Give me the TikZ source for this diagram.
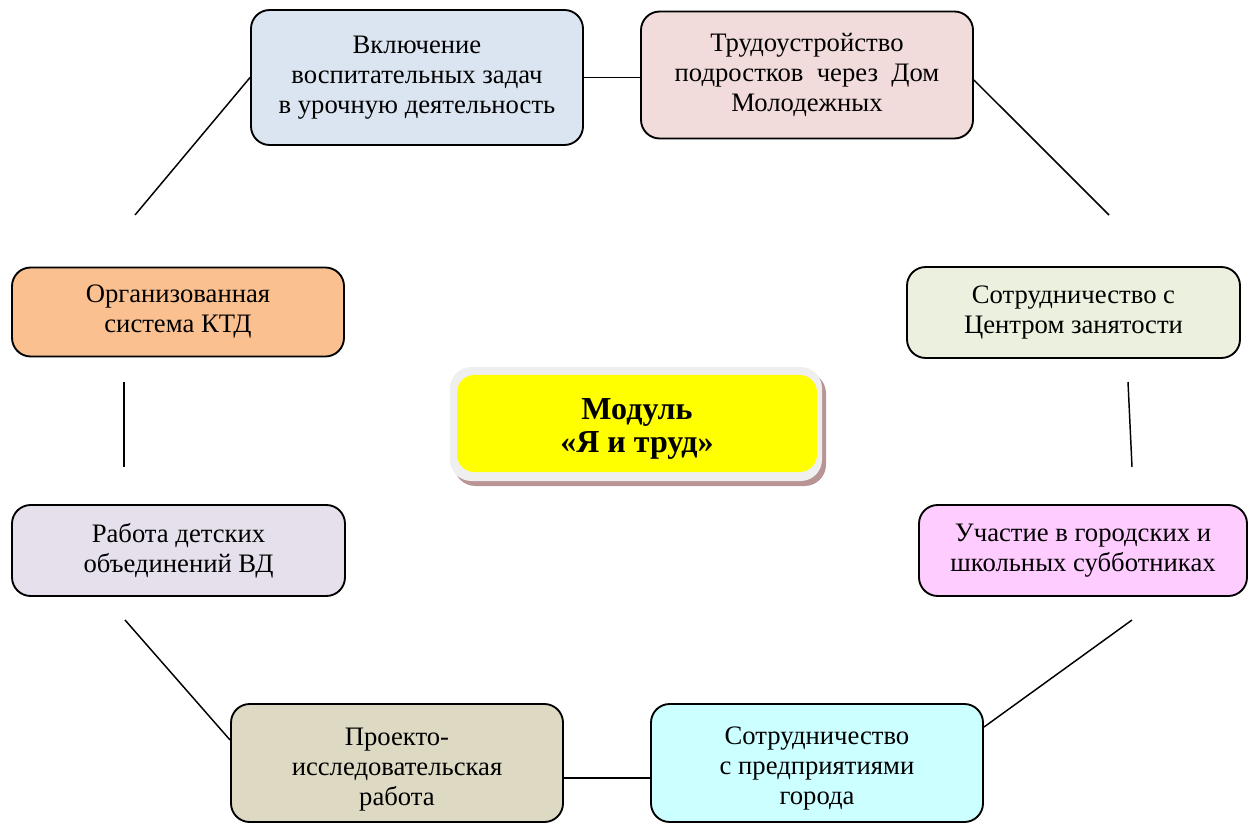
\documentclass[tikz,border=0pt]{standalone}
\usepackage{fontspec}
\setmainfont{Liberation Serif}
\usetikzlibrary{calc}
\definecolor{cA}{HTML}{DBE5F1}
\definecolor{cB}{HTML}{F2DCDB}
\definecolor{cC}{HTML}{FAC090}
\definecolor{cD}{HTML}{EBF1DE}
\definecolor{cE}{HTML}{E5E0EC}
\definecolor{cF}{HTML}{FFCCFF}
\definecolor{cG}{HTML}{DDD9C3}
\definecolor{cH}{HTML}{CCFFFF}
\definecolor{frameC}{HTML}{EFEFEF}
\definecolor{shadowC}{HTML}{B89494}
\definecolor{yel}{HTML}{FFFF00}
\tikzset{
  topicbox/.style={draw=black, line width=1.4pt, rounded corners=14pt, align=center,
    minimum width=249pt, inner sep=2pt,
    font=\fontsize{20}{22.5}\selectfont},
  topictext/.style={align=center, inner sep=0pt, font=\fontsize{20}{22.5}\selectfont},
  link/.style={draw=black, line width=1.1pt},
}
\begin{document}
\begin{tikzpicture}[x=0.75pt,y=-0.75pt]
\useasboundingbox (0,0) rectangle (1249,823);
% boxes
\node[topicbox, fill=cA, minimum height=101.25pt] (b1) at (417,77.5) {Включение\\воспитательных задач\\в урочную деятельность};
\node[topicbox, fill=cB, minimum height=95.25pt] (b2) at (807,75) {Трудоустройство\\подростков\ \ через\ \ Дом\\Молодежных};
\node[topicbox, fill=cC, minimum height=66.75pt] (b3) at (178,312) {Организованная\\система КТД};
\node[topicbox, fill=cD, minimum height=68.25pt, minimum width=249.75pt] (b4) at (1073.5,312.5) {Сотрудничество с\\Центром занятости};
\node[topicbox, fill=cE, minimum height=68.25pt, minimum width=249.75pt] (b5) at (178.5,550.5) {Работа детских\\объединений ВД};
\node[topicbox, fill=cF, minimum height=68.25pt, minimum width=246pt] (b6) at (1083,550.5) {Участие в городских и\\школьных субботниках};
\node[topicbox, fill=cG, minimum height=88.5pt] (b7) at (397,763) {};
\node[topictext] (b7t) at (397,770) {Проекто-\\исследовательская\\работа};
\node[topicbox, fill=cH, minimum height=88.5pt] (b8) at (817,763) {};
\node[topictext] (b8t) at (817,769) {Сотрудничество\\с предприятиями\\города};
% centre
\fill[shadowC, rounded corners=16pt] (454,372) rectangle (826,486);
\fill[frameC, rounded corners=16pt] (450,367) rectangle (822,481);
\node[fill=yel, rounded corners=13pt, minimum width=270pt, minimum height=72.75pt] (mid) at (637,423.5) {};
\node[align=center, font=\bfseries\fontsize{24}{25}\selectfont] (midtxt) at (637,429) {Модуль\\«Я и труд»};
% free ends
\coordinate (p1) at (135,215);
\coordinate (p2) at (1109,215);
\coordinate (p3) at (124,382);
\coordinate (p4) at (124,467);
\coordinate (p5) at (1128,382);
\coordinate (p6) at (1132,467);
\coordinate (p7) at (125,620);
\coordinate (p8) at (1132,620);
% connectors
\draw[link] (b1.east) -- (b1.east -| b2.west);
\draw[link] (b1.west) -- (p1);
\draw[link] ($(b2.east)+(0,5)$) -- (p2);
\draw[link] (p3) -- (p4);
\draw[link] (p5) -- (p6);
\draw[link] (p7) -- ($(b7.west)+(0,-23)$);
\draw[link] ($(b8.north east)+(0,24)$) -- (p8);
\draw[link] ($(b7.east)+(0,15)$) -- ($(b8.west)+(0,15)$);
\end{tikzpicture}
\end{document}
